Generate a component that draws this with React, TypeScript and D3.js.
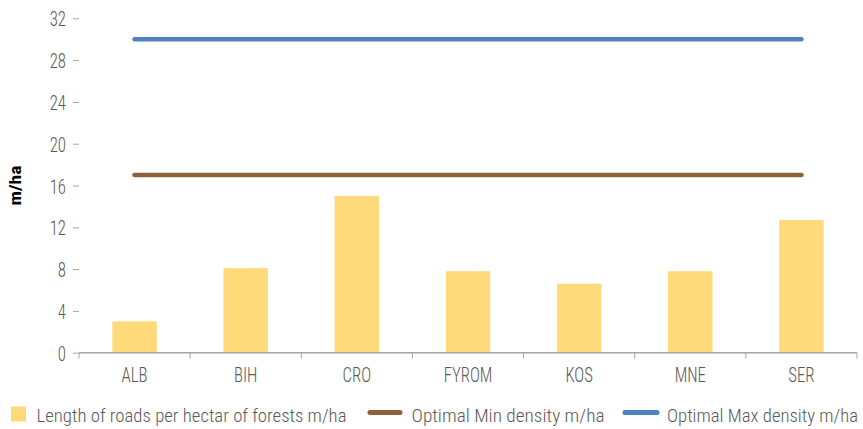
import React, { useEffect, useRef } from 'react'
import * as d3 from 'd3'

const categories = ['ALB', 'BIH', 'CRO', 'FYROM', 'KOS', 'MNE', 'SER']
const roadLength = [3.0, 8.1, 15.0, 7.8, 6.6, 7.8, 12.7]
const optimalMin = [17, 17, 17, 17, 17, 17, 17]
const optimalMax = [30, 30, 30, 30, 30, 30, 30]
const yTicks = [0, 4, 8, 12, 16, 20, 24, 28, 32]
const seriesNames = [
  'Length of roads per hectar of forests m/ha',
  'Optimal Min density m/ha',
  'Optimal Max density m/ha',
]

const FONT = '"Roboto Condensed", "Liberation Sans Narrow", Roboto, sans-serif'
const NARROW = 0.8

export default function App() {
  const svgRef = useRef<SVGSVGElement>(null)

  useEffect(() => {
    const width = 863
    const height = 429
    const left = 79
    const right = 857
    const top = 18.3
    const bottom = 352.7

    const svg = d3.select(svgRef.current)
    svg.selectAll('*').remove()
    svg.attr('width', width).attr('height', height).style('font-family', FONT)

    const x = d3.scaleBand().domain(categories).range([left, right]).padding(0)
    const y = d3.scaleLinear().domain([0, 32]).range([bottom, top])

    // y axis, ticks only
    const yAxis = svg.append('g').attr('transform', `translate(${left},0)`)
    yAxis.call(d3.axisLeft(y).tickValues(yTicks).tickSize(6))
    yAxis.select('.domain').remove()
    yAxis.selectAll('line').attr('stroke', '#a6a6a6')
    yAxis.selectAll('text')
      .attr('x', -13 / NARROW)
      .attr('dy', '0.36em')
      .attr('transform', `scale(${NARROW},1)`)
      .attr('fill', '#595959')
      .style('font-size', '21px')
      .style('font-weight', '300')
      .style('font-family', FONT)

    svg.append('text')
      .attr('transform', `translate(21,${(top + bottom) / 2}) rotate(-90)`)
      .attr('text-anchor', 'middle')
      .style('font-size', '17px')
      .style('font-weight', 'bold')
      .attr('fill', '#000')
      .attr('textLength', 40)
      .attr('lengthAdjust', 'spacingAndGlyphs')
      .text('m/ha')

    // bars
    const barW = x.bandwidth() * 0.4
    svg.append('g').selectAll('rect')
      .data(roadLength)
      .join('rect')
      .attr('x', (d, i) => x(categories[i])! + (x.bandwidth() - barW) / 2)
      .attr('y', d => y(d))
      .attr('width', barW)
      .attr('height', d => bottom - y(d))
      .attr('fill', '#ffda7b')

    // x axis
    const xAxis = svg.append('g').attr('transform', `translate(0,${bottom})`)
    xAxis.append('line').attr('x1', left).attr('x2', right).attr('stroke', '#a6a6a6').attr('stroke-width', 1.5)
    xAxis.selectAll('line.tick')
      .data(d3.range(categories.length + 1))
      .join('line')
      .attr('class', 'tick')
      .attr('x1', i => left + i * x.step())
      .attr('x2', i => left + i * x.step())
      .attr('y1', 0)
      .attr('y2', 6)
      .attr('stroke', '#a6a6a6')
    xAxis.selectAll('text')
      .data(categories)
      .join('text')
      .attr('transform', d => `translate(${x(d)! + x.bandwidth() / 2},29) scale(${NARROW},1)`)
      .attr('text-anchor', 'middle')
      .attr('fill', '#595959')
      .style('font-size', '21px')
      .style('font-weight', '300')
      .text(d => d)

    // reference lines
    const line = d3.line<number>()
      .x((d, i) => x(categories[i])! + x.bandwidth() / 2)
      .y(d => y(d))
    svg.append('path').datum(optimalMin).attr('d', line)
      .attr('fill', 'none').attr('stroke', '#8c6239').attr('stroke-width', 4.5).attr('stroke-linecap', 'round')
    svg.append('path').datum(optimalMax).attr('d', line)
      .attr('fill', 'none').attr('stroke', '#4f81bd').attr('stroke-width', 4.5).attr('stroke-linecap', 'round')

    // legend
    const ly = 414
    const base = 421.5
    const lg = svg.append('g').style('font-size', '18.5px').style('font-weight', '300').attr('fill', '#595959')
    lg.append('rect').attr('x', 11).attr('y', ly - 7.5).attr('width', 15).attr('height', 15).attr('fill', '#ffda7b')
    lg.append('text').attr('x', 36.5).attr('y', base)
      .attr('textLength', 310).attr('lengthAdjust', 'spacingAndGlyphs').text(seriesNames[0])
    lg.append('line').attr('x1', 370).attr('x2', 400).attr('y1', ly - 1.5).attr('y2', ly - 1.5)
      .attr('stroke', '#8c6239').attr('stroke-width', 5).attr('stroke-linecap', 'round')
    lg.append('text').attr('x', 411.5).attr('y', base)
      .attr('textLength', 193).attr('lengthAdjust', 'spacingAndGlyphs').text(seriesNames[1])
    lg.append('line').attr('x1', 625).attr('x2', 657).attr('y1', ly - 1.5).attr('y2', ly - 1.5)
      .attr('stroke', '#4f81bd').attr('stroke-width', 5).attr('stroke-linecap', 'round')
    lg.append('text').attr('x', 667).attr('y', base)
      .attr('textLength', 191).attr('lengthAdjust', 'spacingAndGlyphs').text(seriesNames[2])
  }, [])

  return <svg ref={svgRef} style={{ position: 'absolute', left: 0, top: 0 }}></svg>
}
